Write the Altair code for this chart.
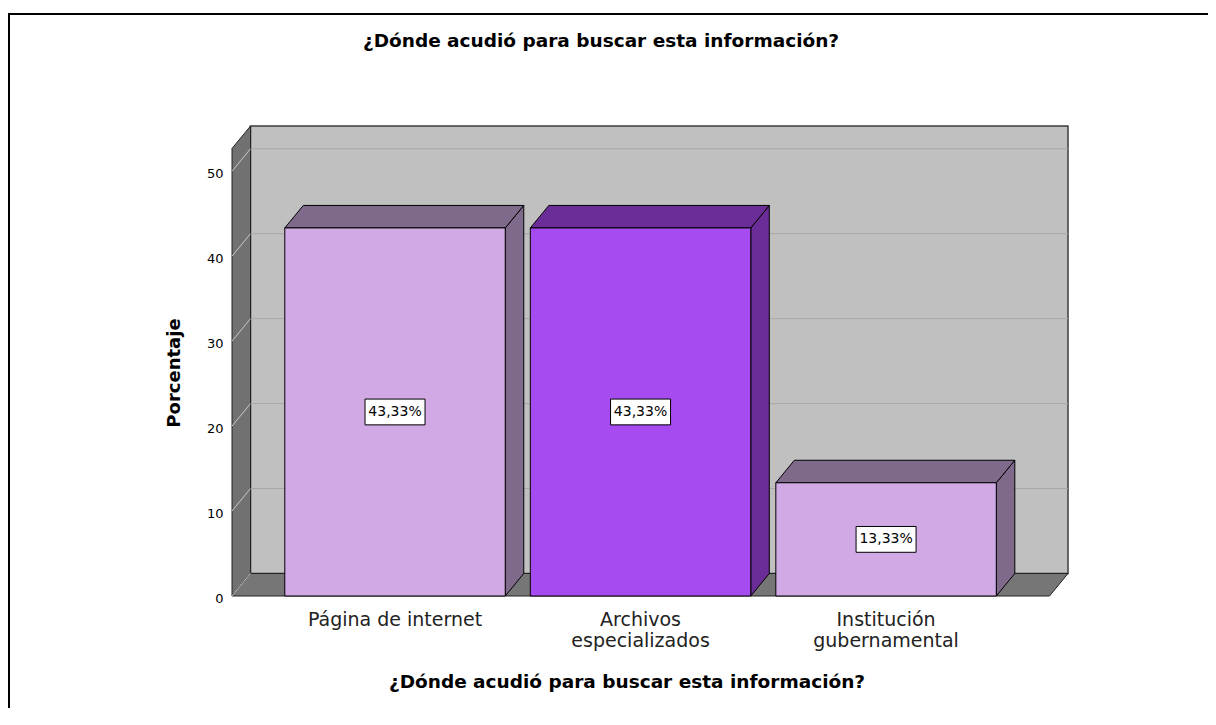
import altair as alt
import pandas as pd

# ---- data ----
categories = ["Página de internet", "Archivos especializados", "Institución gubernamental"]
cat_labels = ["Página de internet", "Archivos\nespecializados", "Institución\ngubernamental"]
values = [43.33, 43.33, 13.33]
y_ticks = [0, 10, 20, 30, 40, 50]
title_text = "¿Dónde acudió para buscar esta información?"
y_title = "Porcentaje"

# ---- styles ----
front_colors = ["#D1A9E5", "#A64BF0", "#D1A9E5"]
side_colors = ["#7F6A8C", "#6A2C96", "#7F6A8C"]
FONT = "DejaVu Sans"
W, H = 836, 470
XL, XR, YTOP = -0.664, 2.741, 55.33   # scale domains (category units / percent)
HALF = 0.449                          # half bar width (category units)
DX, DY = 0.0754, 2.65                 # pseudo-3D depth

xs = alt.Scale(domain=[XL, XR], nice=False, zero=False)
ys = alt.Scale(domain=[0, YTOP], nice=False, zero=False)
yaxis = alt.Axis(values=y_ticks, ticks=False, domain=False, grid=False, labelPadding=9,
                 labelFontSize=13, labelFont=FONT, labelColor="black", title=None, labelOffset=2)


def X(f, **kw):
    return alt.X(f, scale=xs, axis=None, **kw)


def Y(f, **kw):
    return alt.Y(f, scale=ys, axis=yaxis, **kw)


n = len(categories)
bars = pd.DataFrame({
    "idx": list(range(n)),
    "cat": categories,
    "lab": cat_labels,
    "value": values,
})
bars["x0"] = bars["idx"] - HALF
bars["x1"] = bars["idx"] + HALF
bars["half"] = bars["value"] / 2
bars["txt"] = [f"{v:.2f}".replace(".", ",") + "%" for v in values]
bars["front"] = front_colors
bars["side"] = side_colors

side_rows, top_rows = [], []
for i, v in enumerate(values):
    x0, x1 = i - HALF, i + HALF
    side_rows += [dict(bar=i, x=x1, ylo=0, yhi=v, col=side_colors[i]),
                  dict(bar=i, x=x1 + DX, ylo=DY, yhi=v + DY, col=side_colors[i])]
    top_rows += [dict(bar=i, y=v, xa=x0, xb=x1, col=side_colors[i]),
                 dict(bar=i, y=v + DY, xa=x0 + DX, xb=x1 + DX, col=side_colors[i])]
side_df = pd.DataFrame(side_rows)
top_df = pd.DataFrame(top_rows)

back_df = pd.DataFrame([dict(x=XL + DX, x2=XR, y=DY, y2=YTOP)])
left_df = pd.DataFrame([dict(x=XL, y=0, y2=YTOP - DY), dict(x=XL + DX, y=DY, y2=YTOP)])
floor_df = pd.DataFrame([dict(y=0, x=XL, x2=XR - DX), dict(y=DY, x=XL + DX, x2=XR)])
grid_df = pd.DataFrame([dict(y=t + DY, x=XL + DX, x2=XR) for t in y_ticks[1:]])
diag_df = pd.DataFrame([dict(x=XL, y=t, x2=XL + DX, y2=t + DY) for t in y_ticks])

back = alt.Chart(back_df).mark_rect(fill="#C0C0C0", stroke="#3C3C3C", strokeWidth=1.5).encode(
    x=X("x:Q"), x2="x2:Q", y=Y("y:Q"), y2="y2:Q")
grid = alt.Chart(grid_df).mark_rule(color="#A8A8A8", strokeWidth=1).encode(
    x=X("x:Q"), x2="x2:Q", y=Y("y:Q"))
left = alt.Chart(left_df).mark_area(fill="#717171", stroke="#222222", strokeWidth=1).encode(
    x=X("x:Q"), y=Y("y:Q"), y2="y2:Q")
floor = alt.Chart(floor_df).mark_area(orient="horizontal", fill="#767676", stroke="#222222",
                                      strokeWidth=1).encode(
    y=Y("y:Q"), x=X("x:Q"), x2="x2:Q")
diag = alt.Chart(diag_df).mark_rule(color="#C8C8C8", strokeWidth=1).encode(
    x=X("x:Q"), x2="x2:Q", y=Y("y:Q"), y2="y2:Q")

side = alt.Chart(side_df).mark_area(stroke="black", strokeWidth=1).encode(
    x=X("x:Q"), y=Y("ylo:Q"), y2="yhi:Q", detail="bar:N",
    fill=alt.Fill("col:N", scale=None))
top = alt.Chart(top_df).mark_area(orient="horizontal", stroke="black", strokeWidth=1).encode(
    y=Y("y:Q"), x=X("xa:Q"), x2="xb:Q", detail="bar:N",
    fill=alt.Fill("col:N", scale=None))
front = alt.Chart(bars).mark_rect(stroke="black", strokeWidth=1).encode(
    x=X("x0:Q"), x2="x1:Q", y=Y("value:Q"), y2=alt.datum(0),
    fill=alt.Fill("front:N", scale=None))

box = alt.Chart(bars).mark_point(shape="M-1,-0.43L1,-0.43L1,0.43L-1,0.43Z", size=3600,
                                 filled=True, fill="white", stroke="black", strokeWidth=1,
                                 opacity=1).encode(x=X("idx:Q"), y=Y("half:Q"))
boxtxt = alt.Chart(bars).mark_text(font=FONT, fontSize=14, color="black", baseline="middle",
                                   align="center").encode(
    x=X("idx:Q"), y=Y("half:Q"), text="txt:N")

catlab = alt.Chart(bars).mark_text(font=FONT, fontSize=19, color="#222222", lineBreak="\n",
                                   lineHeight=21, baseline="alphabetic", align="center").encode(
    x=X("idx:Q"), y=alt.value(500), text="lab:N")

texts = pd.DataFrame({"t": [title_text]})
title = alt.Chart(texts).mark_text(font=FONT, fontSize=18.5, fontWeight="bold", color="black",
                                   baseline="alphabetic", align="center").encode(
    x=alt.value(369), y=alt.value(-79), text="t:N")
xtitle = alt.Chart(texts).mark_text(font=FONT, fontSize=18.5, fontWeight="bold", color="black",
                                    baseline="alphabetic", align="center").encode(
    x=alt.value(395), y=alt.value(562), text="t:N")
ytitle = alt.Chart(pd.DataFrame({"t": [y_title]})).mark_text(
    font=FONT, fontSize=18, fontWeight="bold", color="black", baseline="middle",
    align="center", angle=270).encode(x=alt.value(-57), y=alt.value(247), text="t:N")

one = pd.DataFrame({"a": [0]})
border_top = alt.Chart(one).mark_rule(color="black", strokeWidth=2).encode(
    x=alt.value(-224), x2=alt.value(W + 140), y=alt.value(-112))
border_left = alt.Chart(one).mark_rule(color="black", strokeWidth=2).encode(
    x=alt.value(-223), y=alt.value(-112), y2=alt.value(H + 120))

chart = alt.layer(
    back, grid, left, floor, diag, side, top, front, box, boxtxt, catlab,
    title, xtitle, ytitle, border_top, border_left
).properties(
    width=W, height=H,
    padding={"left": 224, "top": 118, "right": 140, "bottom": 112},
    autosize=alt.AutoSizeParams(type="none"),
    background="white",
).configure_view(stroke=None)

chart.save("out.html", embed_options={"renderer": "svg", "actions": False})
